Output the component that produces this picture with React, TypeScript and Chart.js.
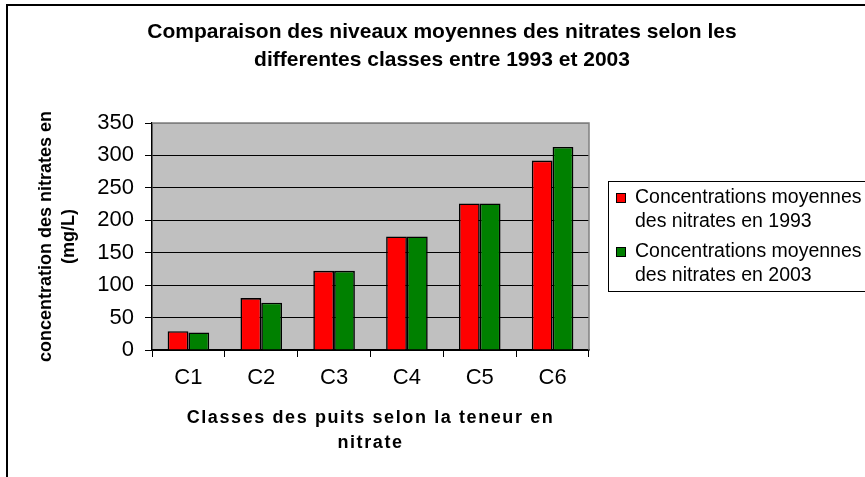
import React, { useEffect, useRef } from "react";
import { Chart, registerables } from "chart.js";

Chart.register(...registerables);

const categories = ["C1", "C2", "C3", "C4", "C5", "C6"];
const values1993 = [29, 80, 122, 175, 226, 292];
const values2003 = [27, 73, 122, 175, 226, 313];
const seriesNames = [
  ["Concentrations moyennes", "des nitrates en 1993"],
  ["Concentrations moyennes", "des nitrates en 2003"],
];
const seriesColors = ["#FF0000", "#008000"];
const titleLines = [
  "Comparaison des niveaux moyennes des nitrates selon les",
  "differentes classes entre 1993 et 2003",
];
const xTitleLines = ["Classes des puits selon la teneur en", "nitrate"];
const yTitleLines = ["concentration des nitrates en", "(mg/L)"];
const yMin = 0;
const yMax = 350;
const yStep = 50;

const FONT = "'Liberation Sans', Arial, sans-serif";

const decorPlugin = {
  id: "decor",
  beforeDraw(chart: any) {
    const { ctx, chartArea: a } = chart;
    ctx.save();
    ctx.fillStyle = "#FFFFFF";
    ctx.fillRect(0, 0, chart.width, chart.height);
    ctx.fillStyle = "#C0C0C0";
    ctx.fillRect(a.left, a.top, a.right - a.left, a.bottom - a.top);
    ctx.restore();
  },
  afterDraw(chart: any) {
    const { ctx, chartArea: a } = chart;
    ctx.save();
    // plot area border (top / right)
    ctx.strokeStyle = "#808080";
    ctx.lineWidth = 1.5;
    ctx.beginPath();
    ctx.moveTo(a.left, a.top);
    ctx.lineTo(a.right, a.top);
    ctx.lineTo(a.right, a.bottom);
    ctx.stroke();

    // outer frame
    ctx.strokeStyle = "#000000";
    ctx.lineWidth = 2;
    ctx.beginPath();
    ctx.moveTo(7, chart.height + 5);
    ctx.lineTo(7, 5);
    ctx.lineTo(chart.width + 5, 5);
    ctx.stroke();

    // title
    ctx.fillStyle = "#000000";
    ctx.textAlign = "center";
    ctx.textBaseline = "middle";
    ctx.font = `bold 21px ${FONT}`;
    titleLines.forEach((t, i) => ctx.fillText(t, 442, 32 + i * 28));

    // x axis title
    const cx = (a.left + a.right) / 2;
    ctx.font = `bold 18px ${FONT}`;
    (ctx as any).letterSpacing = "1.6px";
    xTitleLines.forEach((t, i) => ctx.fillText(t, cx, 418 + i * 25));
    (ctx as any).letterSpacing = "0px";

    // legend
    const lx = 608;
    const ly = 181;
    ctx.strokeStyle = "#000000";
    ctx.lineWidth = 1;
    ctx.strokeRect(lx + 0.5, ly + 0.5, 300, 110);
    ctx.textAlign = "left";
    ctx.font = `19.5px ${FONT}`;
    const starts = [198, 252];
    seriesNames.forEach((lines, i) => {
      const y0 = starts[i];
      ctx.fillStyle = seriesColors[i];
      ctx.fillRect(616.5, y0 - 4.5, 9, 9);
      ctx.strokeStyle = "#000";
      ctx.strokeRect(616.5, y0 - 4.5, 9, 9);
      ctx.fillStyle = "#000";
      lines.forEach((t, j) => ctx.fillText(t, 635, y0 + j * 24));
    });
    ctx.restore();
  },
};

export default function App() {
  const ref = useRef<HTMLCanvasElement | null>(null);
  useEffect(() => {
    document.body.style.margin = "0";
    const canvas = ref.current!;
    const chart = new Chart(canvas, {
      type: "bar",
      data: {
        labels: categories,
        datasets: [
          {
            label: seriesNames[0].join(" "),
            data: values1993,
            backgroundColor: seriesColors[0],
            borderColor: "#000000",
            borderWidth: 1.6,
            categoryPercentage: 0.571,
            barPercentage: 1,
          },
          {
            label: seriesNames[1].join(" "),
            data: values2003,
            backgroundColor: seriesColors[1],
            borderColor: "#000000",
            borderWidth: 1.6,
            categoryPercentage: 0.571,
            barPercentage: 1,
          },
        ],
      },
      options: {
        responsive: false,
        animation: false,
        devicePixelRatio: 1,
        layout: { padding: { left: 0, top: 123, right: 276, bottom: 0 } },
        plugins: {
          legend: { display: false },
          title: { display: false },
          tooltip: { enabled: false },
        },
        scales: {
          x: {
            offset: true,
            grid: {
              offset: true,
              drawOnChartArea: false,
              drawTicks: true,
              tickLength: 7,
              color: "#000000",
            },
            border: { color: "#000000", width: 1.5 },
            ticks: {
              color: "#000000",
              font: { family: FONT, size: 22 },
              padding: 8,
              maxRotation: 0,
            },
            afterFit(s: any) {
              s.height = 127;
            },
          },
          y: {
            min: yMin,
            max: yMax,
            ticks: {
              stepSize: yStep,
              color: "#000000",
              font: { family: FONT, size: 22 },
              padding: 11,
            },
            grid: {
              color: (c: any) => (c.tick && c.tick.value === yMax ? "#808080" : "#000000"),
              tickColor: "#000000",
              tickLength: 7,
              lineWidth: 1,
            },
            border: { color: "#000000", width: 1.5 },
            title: {
              display: true,
              text: yTitleLines,
              color: "#000000",
              font: { family: FONT, size: 18, weight: "bold", lineHeight: 1.3 },
              padding: { top: 34, bottom: 0 },
            },
            afterFit(s: any) {
              s.width = 152;
            },
          },
        },
      },
      plugins: [decorPlugin],
    });
    return () => chart.destroy();
  }, []);
  return <canvas ref={ref} width={865} height={477} style={{ display: "block" }} />;
}
